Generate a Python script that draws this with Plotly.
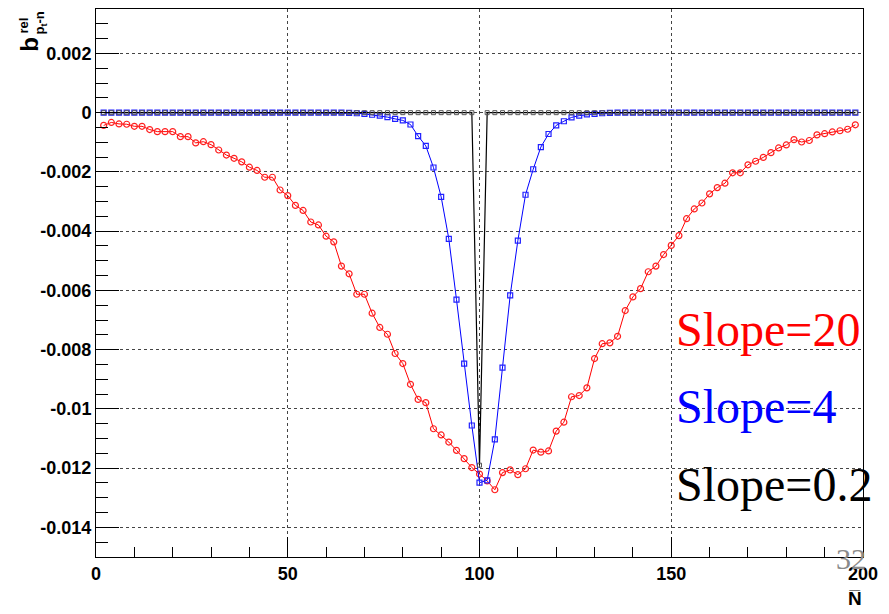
import plotly.graph_objects as go

# ---------------- data ----------------
x_vals = [2, 4, 6, 8, 10, 12, 14, 16, 18, 20, 22, 24, 26, 28, 30, 32, 34, 36, 38, 40,
          42, 44, 46, 48, 50, 52, 54, 56, 58, 60, 62, 64, 66, 68, 70, 72, 74, 76, 78, 80,
          82, 84, 86, 88, 90, 92, 94, 96, 98, 100, 102, 104, 106, 108, 110, 112, 114, 116, 118, 120,
          122, 124, 126, 128, 130, 132, 134, 136, 138, 140, 142, 144, 146, 148, 150, 152, 154, 156, 158, 160,
          162, 164, 166, 168, 170, 172, 174, 176, 178, 180, 182, 184, 186, 188, 190, 192, 194, 196, 198]

slope20 = [-0.00043, -0.00033, -0.00038, -0.00039, -0.00046, -0.00046, -0.00057, -0.00064, -0.00064, -0.00064,
           -0.00081, -0.00081, -0.00102, -0.00098, -0.00108, -0.00126, -0.00143, -0.00154, -0.00166, -0.00184,
           -0.00195, -0.00218, -0.00218, -0.00261, -0.00280, -0.00313, -0.00330, -0.00369, -0.00379, -0.00417,
           -0.00436, -0.00518, -0.00544, -0.00613, -0.00613, -0.00677, -0.00725, -0.00748, -0.00813, -0.00847,
           -0.00917, -0.00968, -0.00979, -0.01067, -0.01088, -0.01112, -0.01140, -0.01168, -0.01198, -0.01220,
           -0.01243, -0.01273, -0.01215, -0.01206, -0.01222, -0.01202, -0.01139, -0.01146, -0.01142, -0.01075,
           -0.01045, -0.00959, -0.00955, -0.00929, -0.00830, -0.00780, -0.00777, -0.00755, -0.00668, -0.00622,
           -0.00594, -0.00537, -0.00518, -0.00479, -0.00448, -0.00415, -0.00358, -0.00325, -0.00305, -0.00274,
           -0.00253, -0.00238, -0.00203, -0.00203, -0.00176, -0.00164, -0.00151, -0.00135, -0.00119, -0.00109,
           -0.00091, -0.00099, -0.00094, -0.00075, -0.00071, -0.00065, -0.00061, -0.00056, -0.00041]

slope4 = [0.0, 0.0, 0.0, 0.0, 0.0, 0.0, 0.0, 0.0, 0.0, 0.0,
          0.0, 0.0, 0.0, 0.0, 0.0, 0.0, 0.0, 0.0, 0.0, 0.0,
          0.0, 0.0, 0.0, 0.0, 0.0, 0.0, 0.0, 0.0, 0.0, 0.0,
          0.0, 0.0, -0.00001, -0.00002, -0.00004, -0.00007, -0.00010, -0.00015, -0.00021, -0.00026,
          -0.00040, -0.00079, -0.00112, -0.00185, -0.00284, -0.00426, -0.00631, -0.00847, -0.01056, -0.01249,
          -0.01241, -0.01103, -0.00861, -0.00617, -0.00432, -0.00277, -0.00191, -0.00116, -0.00072, -0.00043,
          -0.00029, -0.00016, -0.00010, -0.00006, -0.00004, -0.00002, -0.00001, 0.0, 0.0, 0.0,
          0.0, 0.0, 0.0, 0.0, 0.0, 0.0, 0.0, 0.0, 0.0, 0.0,
          0.0, 0.0, 0.0, 0.0, 0.0, 0.0, 0.0, 0.0, 0.0, 0.0,
          0.0, 0.0, 0.0, 0.0, 0.0, 0.0, 0.0, 0.0, 0.0]

slope02 = [0.0, 0.0, 0.0, 0.0, 0.0, 0.0, 0.0, 0.0, 0.0, 0.0,
           0.0, 0.0, 0.0, 0.0, 0.0, 0.0, 0.0, 0.0, 0.0, 0.0,
           0.0, 0.0, 0.0, 0.0, 0.0, 0.0, 0.0, 0.0, 0.0, 0.0,
           0.0, 0.0, 0.0, 0.0, 0.0, 0.0, 0.0, 0.0, 0.0, 0.0,
           0.0, 0.0, 0.0, 0.0, 0.0, 0.0, 0.0, 0.0, 0.0, -0.0119,
           0.0, 0.0, 0.0, 0.0, 0.0, 0.0, 0.0, 0.0, 0.0, 0.0,
           0.0, 0.0, 0.0, 0.0, 0.0, 0.0, 0.0, 0.0, 0.0, 0.0,
           0.0, 0.0, 0.0, 0.0, 0.0, 0.0, 0.0, 0.0, 0.0, 0.0,
           0.0, 0.0, 0.0, 0.0, 0.0, 0.0, 0.0, 0.0, 0.0, 0.0,
           0.0, 0.0, 0.0, 0.0, 0.0, 0.0, 0.0, 0.0, 0.0]

x_ticks = [0, 50, 100, 150, 200]
x_ticktext = ["0", "50", "100", "150", "200"]
y_ticks = [0.002, 0.0, -0.002, -0.004, -0.006, -0.008, -0.010, -0.012, -0.014]
y_ticktext = ["0.002", "0", "-0.002", "-0.004", "-0.006", "-0.008", "-0.01", "-0.012", "-0.014"]

labels = ["Slope=20", "Slope=4", "Slope=0.2"]
label_colors = ["#ff0000", "#0000ff", "#000000"]

# ---------------- figure ----------------
TICKFONT = dict(family="Liberation Sans, Arial", size=18, color="black", weight="bold")

fig = go.Figure()
fig.add_trace(go.Scatter(x=x_vals, y=slope20, mode="lines+markers",
                         line=dict(color="#ff0000", width=1),
                         marker=dict(symbol="circle-open", size=6, color="#ff2020",
                                     line=dict(width=1.2)),
                         showlegend=False))
fig.add_trace(go.Scatter(x=x_vals, y=slope4, mode="lines+markers",
                         line=dict(color="#0000ff", width=1),
                         marker=dict(symbol="square-open", size=5, color="#2020ff",
                                     line=dict(width=1.2)),
                         showlegend=False))
fig.add_trace(go.Scatter(x=x_vals, y=slope02, mode="lines+markers",
                         line=dict(color="#000000", width=1.2),
                         marker=dict(symbol="square-open", size=4, color="#555555",
                                     line=dict(width=1)),
                         showlegend=False))

fig.update_layout(
    width=889, height=614,
    margin=dict(l=96, r=26, t=9, b=57, autoexpand=False),
    paper_bgcolor="white", plot_bgcolor="white",
    xaxis=dict(range=[0, 200], tickvals=x_ticks, ticktext=x_ticktext,
               ticks="inside", ticklen=20, tickwidth=1, tickcolor="black",
               showline=True, linecolor="black", linewidth=1, mirror=True,
               showgrid=True, gridcolor="#444444", griddash="dot", gridwidth=1,
               zeroline=False, tickfont=TICKFONT, automargin=False,
               minor=dict(dtick=10, tick0=0, ticks="inside", ticklen=10,
                          tickcolor="black", showgrid=False)),
    yaxis=dict(range=[-0.015, 0.0035], tickvals=y_ticks, ticktext=y_ticktext,
               ticks="inside", ticklen=23, tickwidth=1, tickcolor="black",
               showline=True, linecolor="black", linewidth=1, mirror=True,
               showgrid=True, gridcolor="#444444", griddash="dot", gridwidth=1,
               zeroline=False, tickfont=TICKFONT, automargin=False,
               minor=dict(dtick=0.0005, tick0=0, ticks="inside", ticklen=12,
                          tickcolor="black", showgrid=False)),
)

# Slope labels
label_y = [0.415, 0.274, 0.132]
for txt, col, yy in zip(labels, label_colors, label_y):
    fig.add_annotation(text=txt, xref="paper", yref="paper", x=0.754, y=yy,
                       xanchor="left", yanchor="middle", showarrow=False,
                       font=dict(family="Liberation Serif, DejaVu Serif", size=48, color=col))

# Y-axis title: b^{rel}_{p_t-n} (rotated)
fig.add_annotation(text="b", xref="paper", yref="paper", x=-0.086, y=0.935,
                   xanchor="center", yanchor="middle", textangle=-90, showarrow=False,
                   font=dict(family="Liberation Sans, Arial", size=24, color="black", weight="bold"))
fig.add_annotation(text="rel", xref="paper", yref="paper", x=-0.095, y=0.97,
                   xanchor="center", yanchor="middle", textangle=-90, showarrow=False,
                   font=dict(family="Liberation Sans, Arial", size=13, color="black", weight="bold"))
fig.add_annotation(text="p<sub>t</sub>-n", xref="paper", yref="paper", x=-0.072, y=0.975,
                   xanchor="center", yanchor="middle", textangle=-90, showarrow=False,
                   font=dict(family="Liberation Sans, Arial", size=13, color="black", weight="bold"))

# X-axis title: N-bar
fig.add_annotation(text="N\u0305", xref="paper", yref="paper", x=0.989, y=-0.075,
                   xanchor="center", yanchor="middle", showarrow=False,
                   font=dict(family="Liberation Sans, Arial", size=19,
                             color="black", weight="bold"))

# page number
fig.add_annotation(text="32", xref="paper", yref="paper", x=0.985, y=-0.003,
                   xanchor="center", yanchor="middle", showarrow=False,
                   font=dict(family="Liberation Serif, DejaVu Serif", size=30, color="#8a8a8a"))

fig.write_html("out.html", config={"displayModeBar": False},
               post_script="document.body.style.margin='0';")
